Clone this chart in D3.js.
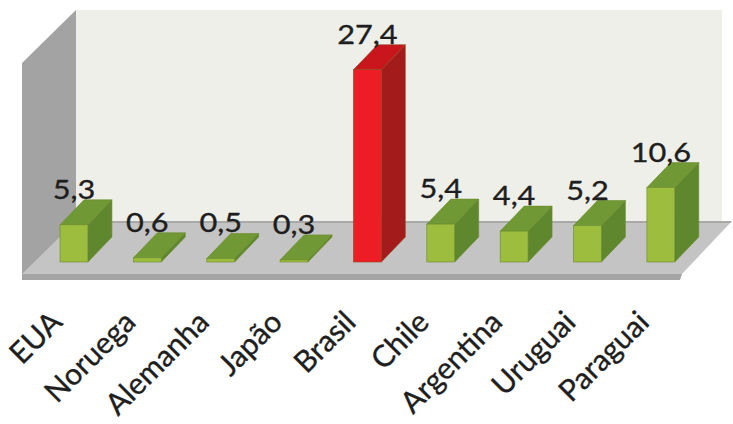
<!DOCTYPE html>
<html>
<head>
<meta charset="utf-8">
<script src="https://cdn.jsdelivr.net/npm/d3@7"></script>
<style>
  html, body { margin: 0; padding: 0; background: #ffffff; }
  svg { display: block; }
  text { font-family: Lato, "Open Sans", sans-serif; fill: #1e1e1e; stroke: #1e1e1e; stroke-width: 0.35px; }
</style>
</head>
<body>
<script>
// Chart data
const categories = ["EUA", "Noruega", "Alemanha", "Japão", "Brasil", "Chile", "Argentina", "Uruguai", "Paraguai"];
const values = [5.3, 0.6, 0.5, 0.3, 27.4, 5.4, 4.4, 5.2, 10.6];
const valueLabels = ["5,3", "0,6", "0,5", "0,3", "27,4", "5,4", "4,4", "5,2", "10,6"];
const highlight = "Brasil";

const W = 733, H = 424;
const svg = d3.select("body").append("svg").attr("width", W).attr("height", H);

// 3D frame geometry
const floorBack = 221, floorFront = 274, floorThick = 6;
const backLeft = 76, backRight = 732, frontLeft = 22, frontRight = 682;
const wallTop = 10, sideTop = 63, backWallRight = 722;
// bar depth (oblique projection offset)
const bdx = 24, bdy = 25;
const baseY = 262;

const x = d3.scaleBand().domain(categories).range([37.3, 697.5]).paddingInner(0.62).paddingOuter(0.31);
const y = d3.scaleLinear().domain([0, 28.5]).range([baseY, 62]);

const poly = pts => pts.map(p => p.join(",")).join(" ");

// back wall
svg.append("polygon")
  .attr("points", poly([[backLeft, wallTop], [backWallRight, wallTop], [backWallRight, floorBack], [backLeft, floorBack]]))
  .attr("fill", "#efefea");
// left side wall
svg.append("polygon")
  .attr("points", poly([[frontLeft, sideTop], [backLeft, wallTop], [backLeft, floorBack], [frontLeft, floorFront + floorThick]]))
  .attr("fill", "#a3a3a3");
// floor top
svg.append("polygon")
  .attr("points", poly([[frontLeft, floorFront], [backLeft, floorBack], [backRight, floorBack], [frontRight, floorFront]]))
  .attr("fill", "#c4c4c4");
// floor back edge
svg.append("line")
  .attr("x1", backLeft).attr("x2", backRight - 1).attr("y1", floorBack + 1).attr("y2", floorBack + 1)
  .attr("stroke", "#a9a9a9").attr("stroke-width", 2);
// floor front thickness
svg.append("polygon")
  .attr("points", poly([[frontLeft, floorFront], [frontRight, floorFront], [frontRight - 2, floorFront + floorThick], [frontLeft, floorFront + floorThick]]))
  .attr("fill", "#a4a4a4");

const colors = {
  normal: { front: "#9cbd3d", top: "#709834", side: "#5f872e", stroke: "#6b8a2c" },
  hi: { front: "#ee1c25", top: "#c9151c", side: "#a31b1b", stroke: "#8c4a1c" }
};

const bars = svg.append("g").selectAll("g").data(categories).join("g");
bars.each(function (c, i) {
  const g = d3.select(this);
  const col = c === highlight ? colors.hi : colors.normal;
  const x0 = x(c), w = x.bandwidth(), yt = y(values[i]);
  g.append("polygon")
    .attr("points", poly([[x0 + w, yt], [x0 + w + bdx, yt - bdy], [x0 + w + bdx, baseY - bdy], [x0 + w, baseY]]))
    .attr("fill", col.side).attr("stroke", col.stroke).attr("stroke-width", 0.6);
  g.append("polygon")
    .attr("points", poly([[x0, yt], [x0 + bdx, yt - bdy], [x0 + w + bdx, yt - bdy], [x0 + w, yt]]))
    .attr("fill", col.top).attr("stroke", col.stroke).attr("stroke-width", 0.6);
  g.append("rect")
    .attr("x", x0).attr("y", yt).attr("width", w).attr("height", baseY - yt)
    .attr("fill", col.front).attr("stroke", col.stroke).attr("stroke-width", 0.6);
});

// value labels above each bar
svg.append("g").selectAll("text").data(categories).join("text")
  .attr("transform", (c, i) => `translate(${x(c) + x.bandwidth() / 2},${y(values[i]) - bdy - 1}) scale(1.18,1)`)
  .attr("text-anchor", "middle")
  .style("font-size", "26px")
  .text((c, i) => valueLabels[i]);

// category labels, slanted
svg.append("g").selectAll("text").data(categories).join("text")
  .attr("transform", c => `translate(${x(c) + x.bandwidth() / 2 - 10},324) rotate(-45)`)
  .attr("text-anchor", "end")
  .style("font-size", "30px")
  .text(c => c);
</script>
</body>
</html>
